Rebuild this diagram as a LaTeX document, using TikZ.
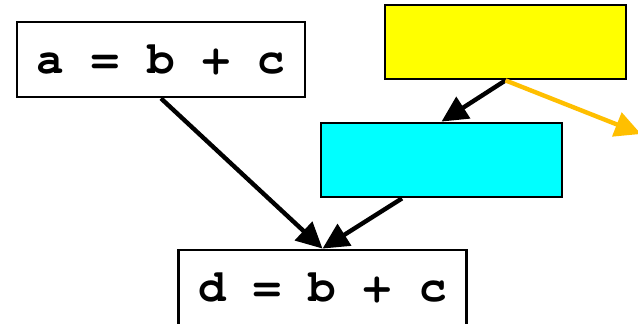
\documentclass[tikz,border=0pt]{standalone}
\usepackage{fontspec}
\newfontfamily\cursorfont{TeX Gyre Cursor}
\usetikzlibrary{arrows.meta,calc}
\definecolor{paper}{HTML}{FFFFFF}
\definecolor{ink}{HTML}{000000}
\definecolor{lemon}{HTML}{FFFF00}
\definecolor{aqua}{HTML}{00FFFF}
\definecolor{amber}{HTML}{FFBF00}
\newcommand{\codefont}{\cursorfont\bfseries\fontsize{46}{50}\selectfont}
\tikzset{
  stmt/.style={draw=ink,fill=paper,line width=2.8pt,minimum width=288pt,
               minimum height=75pt,inner sep=0pt,font=\codefont},
  blank/.style={draw=ink,line width=2.8pt,minimum width=241pt,
                minimum height=74pt,inner sep=0pt},
  flow/.style={-{Triangle[length=26pt,width=25pt]},draw=ink,line width=4.4pt},
  spill/.style={-{Triangle[length=26pt,width=25pt]},draw=amber,line width=4.4pt}
}
\begin{document}
\begin{tikzpicture}[x=1pt,y=-1pt]
  \useasboundingbox (0,0) rectangle (638,324);
  \fill[paper] (0,0) rectangle (638,324);

  % statements
  \node[stmt] (asum) at (161,59.5) {a = b + c};
  \node[stmt] (dsum) at (322.5,287.5) {d = b + c};

  % coloured blocks
  \node[blank,fill=lemon] (yel) at (505.5,42) {};
  \node[blank,fill=aqua] (cyn) at (441.5,160) {};

  % free ends
  \coordinate (cynout) at (402,160);
  \coordinate (away) at (641,134);

  % edges
  \draw[flow] (asum.south) -- (dsum.north);
  \draw[flow] (yel.south) -- (cyn.north);
  \draw[flow] (cynout |- cyn.south) -- (dsum.north);
  \draw[spill] (yel.south) -- (away);
\end{tikzpicture}
\end{document}
